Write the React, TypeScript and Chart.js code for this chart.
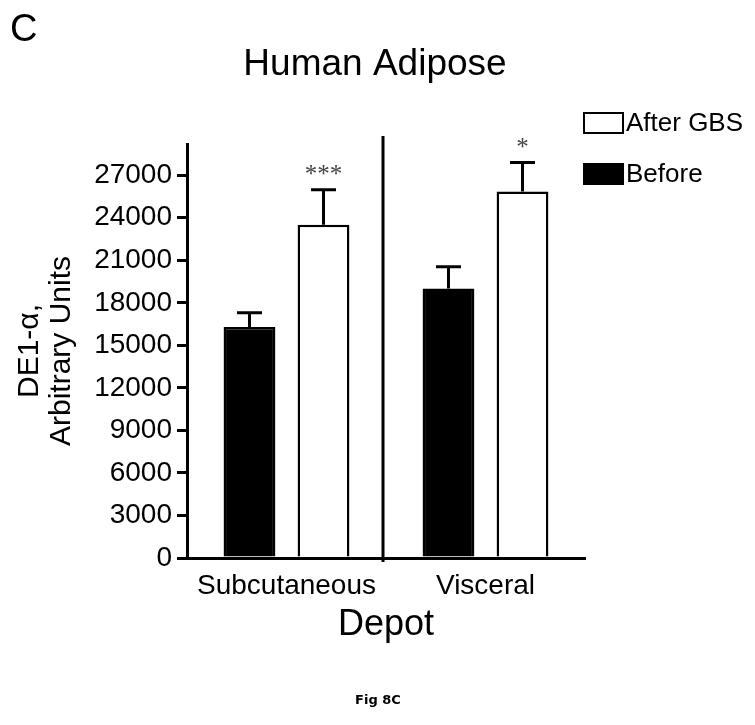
import React, { useEffect, useRef } from "react";
import { Chart, registerables } from "chart.js";

Chart.register(...registerables);

const categories = ["Subcutaneous", "Visceral"];
const seriesLabels = ["Before", "After GBS"];
const beforeValues = [16300, 19000];
const beforeErrors = [1000, 1550];
const afterValues = [23500, 25850];
const afterErrors = [2470, 2040];
const afterStars = ["***", "*"];
const yTicks = [0, 3000, 6000, 9000, 12000, 15000, 18000, 21000, 24000, 27000];
const yMax = 29200;
const yTitle = ["DE1-\u03b1,", "Arbitrary Units"];
const xTitle = "Depot";
const chartTitle = "Human Adipose";
const panelLetter = "C";
const figCaption = "Fig 8C";

const SANS = "'Liberation Sans', Arial, Helvetica, sans-serif";

export default function App() {
  const ref = useRef<HTMLCanvasElement>(null);

  useEffect(() => {
    const canvas = ref.current!;
    const extras = {
      id: "extras",
      afterDatasetsDraw(chart: any) {
        const ctx = chart.ctx as CanvasRenderingContext2D;
        const ys = chart.scales.y;
        const xs = chart.scales.x;
        const area = chart.chartArea;
        const vals = [beforeValues, afterValues];
        const errs = [beforeErrors, afterErrors];
        ctx.save();
        ctx.strokeStyle = "#000";
        ctx.lineWidth = 3;
        chart.data.datasets.forEach((_ds: any, di: number) => {
          const meta = chart.getDatasetMeta(di);
          meta.data.forEach((bar: any, i: number) => {
            const top = ys.getPixelForValue(vals[di][i]);
            const end = ys.getPixelForValue(vals[di][i] + errs[di][i]);
            ctx.beginPath();
            ctx.moveTo(bar.x, top);
            ctx.lineTo(bar.x, end);
            ctx.moveTo(bar.x - 12.5, end);
            ctx.lineTo(bar.x + 12.5, end);
            ctx.stroke();
            if (di === 1 && afterStars[i]) {
              ctx.fillStyle = "#444";
              ctx.font = "25px 'Liberation Serif', 'Times New Roman', serif";
              ctx.textAlign = "center";
              ctx.textBaseline = "middle";
              ctx.fillText(afterStars[i], bar.x, end - 14);
            }
          });
        });
        // divider between depots
        const xm = xs.getPixelForValue(0.485);
        ctx.beginPath();
        ctx.lineWidth = 3;
        ctx.moveTo(xm, area.top - 8);
        ctx.lineTo(xm, area.bottom + 4);
        ctx.stroke();

        // legend (After GBS above Before)
        const legendItems = [
          { label: seriesLabels[1], fill: "#fff", y: 112 },
          { label: seriesLabels[0], fill: "#000", y: 163 },
        ];
        legendItems.forEach((it) => {
          ctx.fillStyle = it.fill;
          ctx.fillRect(583, it.y, 41, 22);
          ctx.strokeStyle = "#000";
          ctx.lineWidth = 2;
          ctx.strokeRect(584, it.y + 1, 39, 20);
          ctx.fillStyle = "#000";
          ctx.font = `26px ${SANS}`;
          ctx.textAlign = "left";
          ctx.textBaseline = "middle";
          ctx.fillText(it.label, 626, it.y + 12);
        });

        // title, panel letter, caption
        ctx.fillStyle = "#000";
        ctx.textAlign = "center";
        ctx.textBaseline = "middle";
        ctx.font = `37px ${SANS}`;
        ctx.fillText(chartTitle, 375, 65);
        ctx.textAlign = "left";
        ctx.font = `38px ${SANS}`;
        ctx.fillText(panelLetter, 10, 31);
        ctx.textAlign = "center";
        ctx.font = `bold 13px 'DejaVu Sans', Verdana, sans-serif`;
        ctx.fillText(figCaption, 378, 701);
        ctx.restore();
      },
    };

    const chart = new Chart(canvas, {
      type: "bar",
      data: {
        labels: categories,
        datasets: [
          {
            label: seriesLabels[0],
            data: beforeValues,
            backgroundColor: "#000",
            borderColor: "#000",
            borderWidth: 2.5,
            categoryPercentage: 0.744,
            barPercentage: 0.7,
          },
          {
            label: seriesLabels[1],
            data: afterValues,
            backgroundColor: "#fff",
            borderColor: "#000",
            borderWidth: 2.5,
            categoryPercentage: 0.744,
            barPercentage: 0.7,
          },
        ],
      },
      options: {
        responsive: false,
        animation: false,
        devicePixelRatio: 1,
        layout: { padding: { top: 144, right: 170, bottom: 0, left: 0 } },
        plugins: {
          legend: { display: false },
          tooltip: { enabled: false },
          title: { display: false },
        },
        scales: {
          x: {
            afterFit: (s: any) => {
              s.height = 167;
            },
            grid: { display: false, drawOnChartArea: false },
            border: { display: true, width: 3, color: "#000" },
            ticks: {
              color: "#000",
              padding: 3,
              font: { family: SANS, size: 28 },
            },
            title: {
              display: true,
              text: xTitle,
              color: "#000",
              font: { family: SANS, size: 36 },
              padding: { top: 0, bottom: 78 },
            },
          },
          y: {
            min: 0,
            max: yMax,
            afterFit: (s: any) => {
              s.width = 187;
            },
            afterBuildTicks: (s: any) => {
              s.ticks = yTicks.map((v) => ({ value: v }));
            },
            ticks: {
              autoSkip: false,
              color: "#000",
              padding: 5,
              font: { family: SANS, size: 28 },
              callback: (v: any) => String(v),
            },
            grid: {
              display: true,
              drawOnChartArea: false,
              drawTicks: true,
              tickLength: 10,
              lineWidth: 3,
              color: "#000",
            },
            border: { display: true, width: 3, color: "#000" },
            title: {
              display: true,
              text: yTitle,
              color: "#000",
              font: { family: SANS, size: 30, lineHeight: 1.07 },
              padding: { top: 14, bottom: 0 },
            },
          },
        },
      },
      plugins: [extras],
    });
    return () => chart.destroy();
  }, []);

  return (
    <div style={{ position: "absolute", left: 0, top: 0, width: 755, height: 725, background: "#fff" }}>
      <canvas ref={ref} width={755} height={725} />
    </div>
  );
}
